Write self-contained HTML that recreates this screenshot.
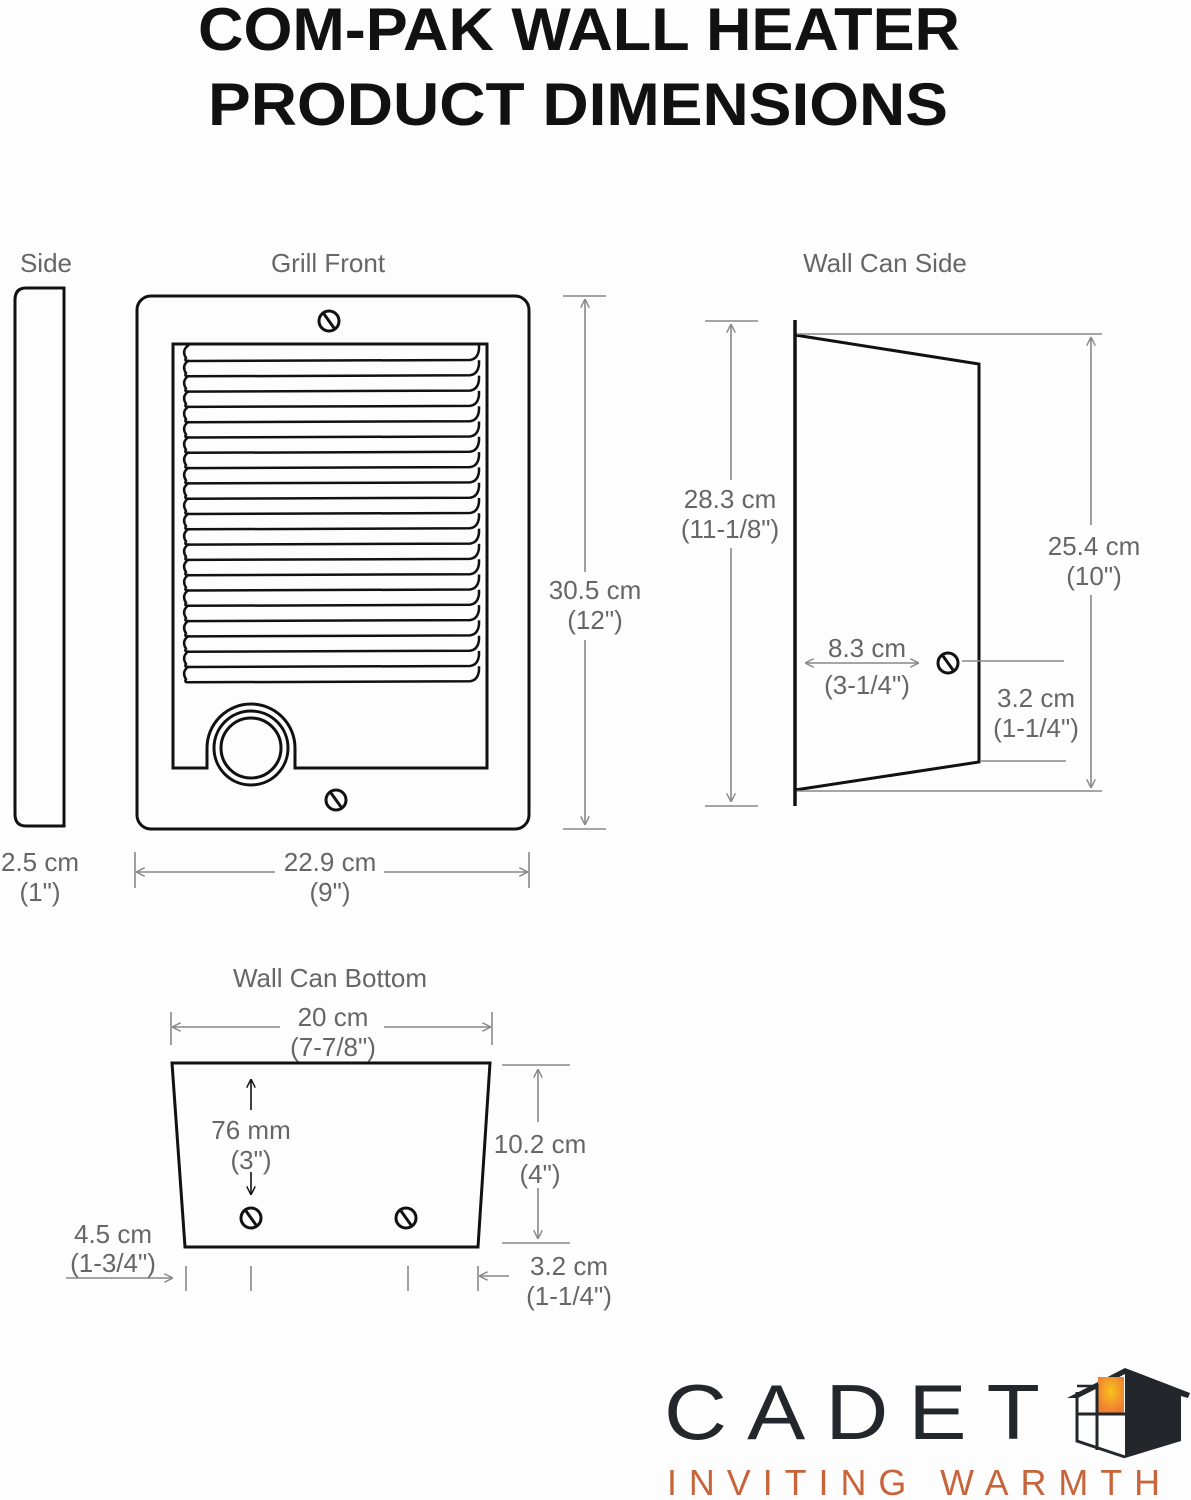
<!DOCTYPE html>
<html><head><meta charset="utf-8"><style>
html,body{margin:0;padding:0;background:#fdfdfd;}
svg{display:block}
.t{font-family:"Liberation Sans",sans-serif;fill:#666;font-size:26px;text-anchor:middle;}
.h{font-family:"Liberation Sans",sans-serif;fill:#111;font-weight:bold;font-size:60px;}
.k{fill:none;stroke:#111;stroke-width:3;}
.g{fill:none;stroke:#888;stroke-width:1.6;}
</style></head><body>
<svg width="1191" height="1500" viewBox="0 0 1191 1500" xmlns="http://www.w3.org/2000/svg">
<defs>
<marker id="a" viewBox="0 0 10 10" refX="9" refY="5" markerWidth="9" markerHeight="9" orient="auto-start-reverse" markerUnits="userSpaceOnUse"><path d="M0,0 L10,5 L0,10" fill="none" stroke="#888" stroke-width="1.6"/></marker>
<marker id="b" viewBox="0 0 10 10" refX="9" refY="5" markerWidth="9" markerHeight="9" orient="auto-start-reverse" markerUnits="userSpaceOnUse"><path d="M0,0 L10,5 L0,10" fill="none" stroke="#111" stroke-width="1.6"/></marker>
<path id="s" d="M189,0 Q181,5 186,13 Q184,16 188,16 L470,15 Q478,14 479,4 L479,0" fill="none" stroke="#111" stroke-width="2.5"/>
<g id="sc"><circle cx="0" cy="0" r="10" fill="none" stroke="#111" stroke-width="3"/><line x1="-5" y1="-7" x2="5" y2="7" stroke="#111" stroke-width="3"/></g>
<radialGradient id="o" cx="0.5" cy="0.4" r="0.6"><stop offset="0" stop-color="#f9c21a"/><stop offset="1" stop-color="#ee7d34"/></radialGradient>
</defs>
<text class="h" x="198" y="50" textLength="762" lengthAdjust="spacingAndGlyphs">COM-PAK WALL HEATER</text>
<text class="h" x="208" y="125" textLength="740" lengthAdjust="spacingAndGlyphs">PRODUCT DIMENSIONS</text>

<text class="t" x="46" y="272">Side</text>
<text class="t" x="328" y="272">Grill Front</text>
<text class="t" x="885" y="272">Wall Can Side</text>

<path class="k" d="M64,288 L26,288 Q15,288 15,300 L15,814 Q15,826 26,826 L64,826 Z"/>
<text class="t" x="40" y="871">2.5 cm</text>
<text class="t" x="40" y="901">(1")</text>

<rect class="k" x="137" y="296" width="392" height="533" rx="14"/>
<path class="k" d="M207,768 L173,768 L173,344 L487,344 L487,768 L295,768 L295,748 A44,44 0 0 0 207,748 Z"/>
<circle class="k" cx="251" cy="748" r="37"/>
<circle class="k" cx="251" cy="748" r="30"/>
<use href="#sc" x="329" y="321"/>
<use href="#sc" x="336" y="800"/>
<use href="#s" y="345"/><use href="#s" y="360.3"/><use href="#s" y="375.6"/><use href="#s" y="390.9"/><use href="#s" y="406.2"/><use href="#s" y="421.5"/><use href="#s" y="436.8"/><use href="#s" y="452.1"/><use href="#s" y="467.4"/><use href="#s" y="482.7"/><use href="#s" y="498"/><use href="#s" y="513.3"/><use href="#s" y="528.6"/><use href="#s" y="543.9"/><use href="#s" y="559.2"/><use href="#s" y="574.5"/><use href="#s" y="589.8"/><use href="#s" y="605.1"/><use href="#s" y="620.4"/><use href="#s" y="635.7"/><use href="#s" y="651"/><use href="#s" y="666.3"/>

<line class="g" x1="563" y1="296" x2="606" y2="296"/>
<line class="g" x1="563" y1="829" x2="606" y2="829"/>
<line class="g" x1="585" y1="300" x2="585" y2="572" marker-start="url(#a)"/>
<line class="g" x1="585" y1="640" x2="585" y2="824" marker-end="url(#a)"/>
<text class="t" x="595" y="599">30.5 cm</text>
<text class="t" x="595" y="629">(12")</text>
<line class="g" x1="135" y1="852" x2="135" y2="888"/>
<line class="g" x1="529" y1="852" x2="529" y2="888"/>
<line class="g" x1="137" y1="872" x2="275" y2="872" marker-start="url(#a)"/>
<line class="g" x1="384" y1="872" x2="527" y2="872" marker-end="url(#a)"/>
<text class="t" x="330" y="871">22.9 cm</text>
<text class="t" x="330" y="901">(9")</text>

<line x1="795" y1="320" x2="795" y2="806" stroke="#111" stroke-width="3.5"/>
<path class="k" d="M795,335 L979,364 L979,762 L795,790"/>
<use href="#sc" x="948" y="663"/>
<line class="g" x1="705" y1="321" x2="758" y2="321"/>
<line class="g" x1="705" y1="806" x2="758" y2="806"/>
<line class="g" x1="731" y1="325" x2="731" y2="480" marker-start="url(#a)"/>
<line class="g" x1="731" y1="548" x2="731" y2="801" marker-end="url(#a)"/>
<text class="t" x="730" y="508">28.3 cm</text>
<text class="t" x="730" y="538">(11-1/8")</text>
<line class="g" x1="797" y1="334" x2="1102" y2="334"/>
<line class="g" x1="797" y1="791" x2="1102" y2="791"/>
<line class="g" x1="1091" y1="338" x2="1091" y2="525" marker-start="url(#a)"/>
<line class="g" x1="1091" y1="595" x2="1091" y2="787" marker-end="url(#a)"/>
<text class="t" x="1094" y="555">25.4 cm</text>
<text class="t" x="1094" y="585">(10")</text>
<line class="g" x1="806" y1="663" x2="918" y2="663" marker-start="url(#a)" marker-end="url(#a)"/>
<text class="t" x="867" y="657">8.3 cm</text>
<text class="t" x="867" y="694">(3-1/4")</text>
<line class="g" x1="962" y1="661" x2="1064" y2="661"/>
<line class="g" x1="981" y1="761" x2="1066" y2="761"/>
<text class="t" x="1036" y="707">3.2  cm</text>
<text class="t" x="1036" y="737">(1-1/4")</text>

<text class="t" x="330" y="987">Wall Can Bottom</text>
<line class="g" x1="171" y1="1012" x2="171" y2="1045"/>
<line class="g" x1="492" y1="1012" x2="492" y2="1045"/>
<line class="g" x1="173" y1="1027" x2="280" y2="1027" marker-start="url(#a)"/>
<line class="g" x1="384" y1="1027" x2="490" y2="1027" marker-end="url(#a)"/>
<text class="t" x="333" y="1026">20 cm</text>
<text class="t" x="333" y="1056">(7-7/8")</text>
<path class="k" d="M172,1063 L490,1063 L478,1247 L185,1247 Z"/>
<use href="#sc" x="251" y="1218"/>
<use href="#sc" x="406" y="1218"/>
<line x1="251" y1="1110" x2="251" y2="1080" stroke="#111" stroke-width="1.6" marker-end="url(#b)"/>
<line x1="251" y1="1172" x2="251" y2="1194" stroke="#111" stroke-width="1.6" marker-end="url(#b)"/>
<text class="t" x="251" y="1139">76 mm</text>
<text class="t" x="251" y="1169">(3")</text>
<line class="g" x1="502" y1="1065" x2="570" y2="1065"/>
<line class="g" x1="502" y1="1243" x2="570" y2="1243"/>
<line class="g" x1="538" y1="1070" x2="538" y2="1122" marker-start="url(#a)"/>
<line class="g" x1="538" y1="1188" x2="538" y2="1238" marker-end="url(#a)"/>
<text class="t" x="540" y="1153">10.2 cm</text>
<text class="t" x="540" y="1183">(4")</text>
<line class="g" x1="186" y1="1266" x2="186" y2="1291"/>
<line class="g" x1="251" y1="1266" x2="251" y2="1291"/>
<line class="g" x1="408" y1="1266" x2="408" y2="1291"/>
<line class="g" x1="478" y1="1266" x2="478" y2="1291"/>
<line class="g" x1="66" y1="1278" x2="172" y2="1278" marker-end="url(#a)"/>
<line class="g" x1="509" y1="1276" x2="480" y2="1276" marker-end="url(#a)"/>
<text class="t" x="113" y="1243">4.5 cm</text>
<text class="t" x="113" y="1272">(1-3/4")</text>
<text class="t" x="569" y="1275">3.2 cm</text>
<text class="t" x="569" y="1305">(1-1/4")</text>

<text x="664" y="1439" textLength="396" lengthAdjust="spacingAndGlyphs" style="font-family:'Liberation Sans',sans-serif;font-size:78px;fill:#23262a;letter-spacing:18px">CADET</text>
<path d="M1125,1368 L1190,1393 L1188,1398 L1181,1396 L1181,1441 L1125,1458 Z" fill="#23262a"/>
<path d="M1067,1398 L1125,1368 L1125,1374 L1078,1398 Z" fill="#23262a"/>
<path d="M1077,1392 L1077,1441 L1125,1457" fill="none" stroke="#23262a" stroke-width="3"/>
<rect x="1098" y="1377" width="26" height="36" fill="url(#o)"/>
<line x1="1097" y1="1384" x2="1097" y2="1450" stroke="#23262a" stroke-width="3"/>
<line x1="1077" y1="1414" x2="1125" y2="1414" stroke="#23262a" stroke-width="3"/>
<line x1="1077" y1="1386" x2="1098" y2="1386" stroke="#23262a" stroke-width="2.5"/>
<text x="667" y="1495" textLength="505" lengthAdjust="spacingAndGlyphs" style="font-family:'Liberation Sans',sans-serif;font-size:36px;fill:#c8643a;letter-spacing:12px">INVITING WARMTH</text>
</svg>
</body></html>
